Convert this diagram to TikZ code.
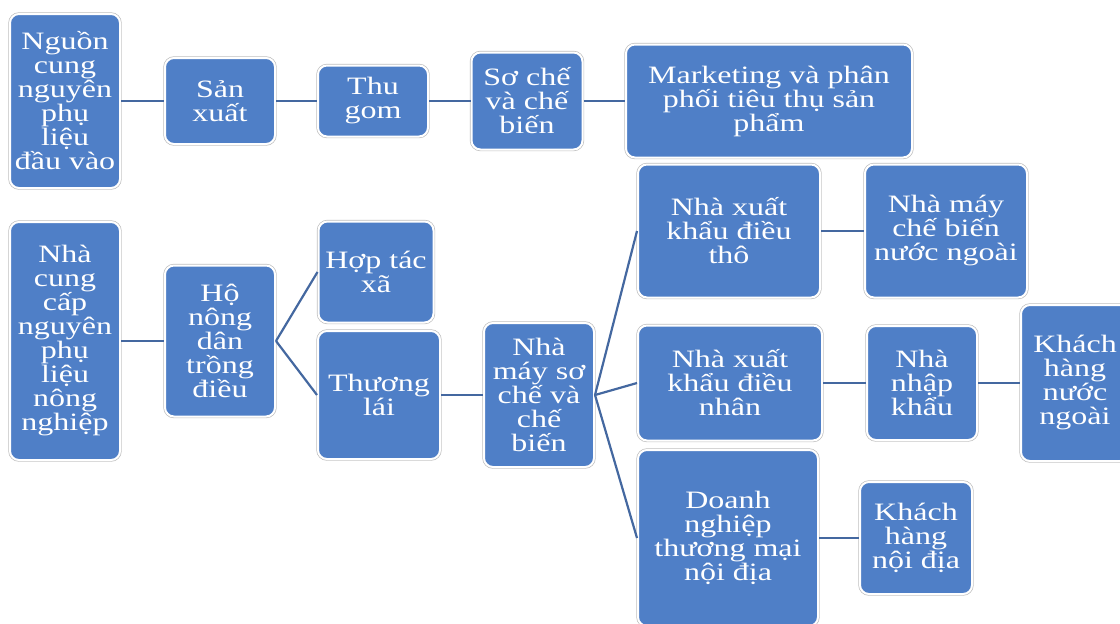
\documentclass[tikz,border=0pt]{standalone}
\usepackage{fontspec}
\setmainfont{Liberation Serif}[FakeStretch=1.28]
\definecolor{boxblue}{RGB}{79,127,199}
\definecolor{linkblue}{RGB}{68,104,160}
\begin{document}
\begin{tikzpicture}[x=1pt,y=-1pt]
\tikzstyle{box}=[rectangle, rounded corners=9pt, fill=boxblue, draw=white, line width=2pt, preaction={draw=black!25, line width=3.4pt}, text=white, align=center, inner sep=1pt, font=\fontsize{25}{24}\selectfont]
\tikzstyle{link}=[draw=linkblue, line width=2.2pt]
\useasboundingbox (0,0) rectangle (1120,624);
\node [box, minimum width=110, minimum height=174] (nguon) at (65,101) {Nguồn\\cung\\nguyên\\phụ\\liệu\\đầu vào};
\node [box, minimum width=110, minimum height=86] (sanxuat) at (220,101) {Sản\\xuất};
\node [box, minimum width=110, minimum height=71] (thugom) at (373,101) {Thu\\gom};
\node [box, minimum width=111, minimum height=97] (soche) at (527,101) {Sơ chế\\và chế\\biến};
\node [box, minimum width=286, minimum height=113] (marketing) at (769,101) {Marketing và phân\\phối tiêu thụ sản\\phẩm};
\node [box, minimum width=110, minimum height=238] (nhacc) at (65,341) {Nhà\\cung\\cấp\\nguyên\\phụ\\liệu\\nông\\nghiệp};
\node [box, minimum width=110, minimum height=151] (hond) at (220,341) {Hộ\\nông\\dân\\trồng\\điều};
\node [box, minimum width=115, minimum height=101] (hoptac) at (376,272) {Hợp tác\\xã};
\node [box, minimum width=122, minimum height=128] (thuonglai) at (379,395) {Thương\\lái};
\node [box, minimum width=110, minimum height=144] (nhamay) at (539,395) {Nhà\\máy sơ\\chế và\\chế\\biến};
\node [box, minimum width=182, minimum height=133] (xktho) at (729,231) {Nhà xuất\\khẩu điều\\thô};
\node [box, minimum width=162, minimum height=133] (chebiennn) at (946,231) {Nhà máy\\chế biến\\nước ngoài};
\node [box, minimum width=184, minimum height=115] (xknhan) at (730,383) {Nhà xuất\\khẩu điều\\nhân};
\node [box, minimum width=110, minimum height=114] (nhapkhau) at (922,383) {Nhà\\nhập\\khẩu};
\node [box, minimum width=108, minimum height=156] (khnn) at (1075,383) {Khách\\hàng\\nước\\ngoài};
\node [box, minimum width=180, minimum height=176] (doanhng) at (728,538) {Doanh\\nghiệp\\thương mại\\nội địa};
\node [box, minimum width=112, minimum height=112] (khnd) at (916,538) {Khách\\hàng\\nội địa};
\draw [link] (nguon.east) -- (sanxuat.west);
\draw [link] (sanxuat.east) -- (thugom.west);
\draw [link] (thugom.east) -- (soche.west);
\draw [link] (soche.east) -- (marketing.west);
\draw [link] (nhacc.east) -- (hond.west);
\draw [link] (hond.east) -- (hoptac.west);
\draw [link] (hond.east) -- (thuonglai.west);
\draw [link] (thuonglai.east) -- (nhamay.west);
\draw [link] (nhamay.east) -- (xktho.west);
\draw [link] (nhamay.east) -- (xknhan.west);
\draw [link] (nhamay.east) -- (doanhng.west);
\draw [link] (xktho.east) -- (chebiennn.west);
\draw [link] (xknhan.east) -- (nhapkhau.west);
\draw [link] (nhapkhau.east) -- (khnn.west);
\draw [link] (doanhng.east) -- (khnd.west);
\end{tikzpicture}
\end{document}
